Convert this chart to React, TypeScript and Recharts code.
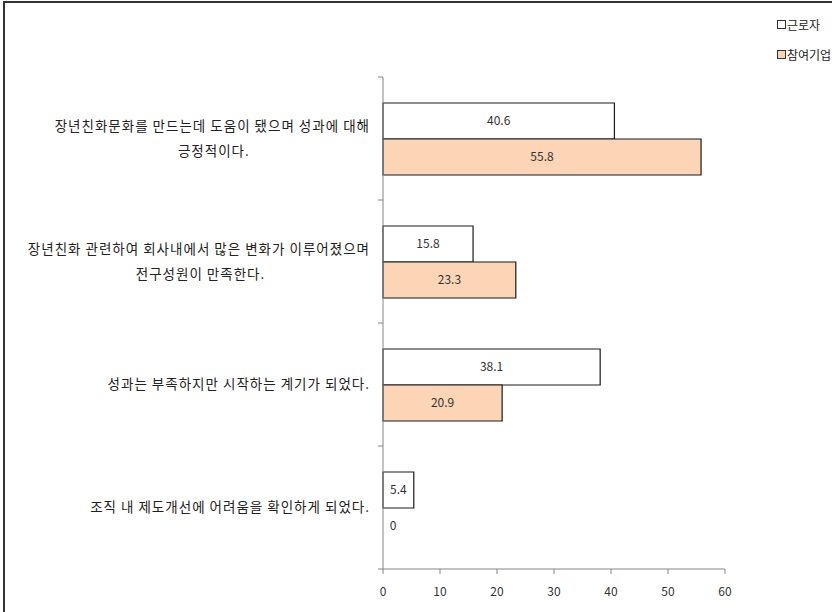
import React from "react";
import { Bar, BarChart, LabelList, Rectangle, XAxis, YAxis } from "recharts";

const categories = [
  "장년친화문화를 만드는데 도움이 됐으며 성과에 대해\n긍정적이다.",
  "장년친화 관련하여 회사내에서 많은 변화가 이루어졌으며\n전구성원이 만족한다.",
  "성과는 부족하지만 시작하는 계기가 되었다.",
  "조직 내 제도개선에 어려움을 확인하게 되었다.",
];
const workerValues = [40.6, 15.8, 38.1, 5.4];
const companyValues = [55.8, 23.3, 20.9, 0];
const xTicks = [0, 10, 20, 30, 40, 50, 60];
const seriesNames = ["근로자", "참여기업"];

const FONT = "'Noto Sans CJK KR', 'Noto Sans', sans-serif";
const AXIS = "#868686";
const PEACH = "#FBD5B5";

const TOP = 77;
const BOTTOM = 569;
const AXIS_X = 383;
const BAND = (BOTTOM - TOP) / categories.length;
const LABEL_FS = 13.5;
const LABEL_LS = 1;

const data = categories.map((name, i) => ({
  name,
  worker: workerValues[i],
  company: companyValues[i],
}));

// rough text width for wrapped excel-style labels
function textWidth(s: string, fs: number, ls: number) {
  let w = 0;
  for (const ch of s) {
    if (/[\uAC00-\uD7A3]/.test(ch)) w += fs * 0.91 + ls;
    else if (ch === " ") w += fs * 0.224 + ls;
    else w += fs * 0.3 + ls;
  }
  return w;
}

function CategoryTick(props: any) {
  const { y, payload, index } = props;
  const lines: string[] = String(payload.value).split("\n");
  const right = AXIS_X - 13;
  const widths = lines.map((l) => textWidth(l, LABEL_FS, LABEL_LS));
  const longest = Math.max(...widths);
  const lh = 25;
  const startY = y - ((lines.length - 1) * lh) / 2;
  return (
    <g>
      <line x1={AXIS_X - 5} x2={AXIS_X} y1={y - BAND / 2} y2={y - BAND / 2} stroke={AXIS} />
      {index === categories.length - 1 && (
        <line x1={AXIS_X - 5} x2={AXIS_X} y1={y + BAND / 2} y2={y + BAND / 2} stroke={AXIS} />
      )}
      {lines.map((l, i) => {
        const isLongest = widths[i] === longest;
        return (
          <text
            key={i}
            x={isLongest ? right : right - longest / 2}
            y={startY + i * lh}
            dy="0.35em"
            textAnchor={isLongest ? "end" : "middle"}
            fontSize={LABEL_FS}
            letterSpacing={LABEL_LS}
            fontFamily={FONT}
            fill="#222"
          >
            {l}
          </text>
        );
      })}
    </g>
  );
}

function ValueLabel(props: any) {
  const { x, y, width, height, value } = props;
  const cx = value === 0 ? x + 10 : x + width / 2;
  return (
    <text
      x={cx}
      y={y + height / 2}
      dy="0.35em"
      textAnchor="middle"
      fontSize={12}
      fontFamily={FONT}
      fill="#333"
    >
      {value}
    </text>
  );
}

// zero bars keep their label but draw no box
function BarShape(props: any) {
  if (props.value === 0 || (Array.isArray(props.value) && props.value[1] === 0)) return null;
  return <Rectangle {...props} />;
}

function LegendBox() {
  const fills = ["#fff", PEACH];
  return (
    <div style={{ position: "absolute", left: 777, top: 9, fontFamily: FONT, fontSize: 12, color: "#222" }}>
      {seriesNames.map((n, i) => (
        <div key={n} style={{ display: "flex", alignItems: "center", height: 30, whiteSpace: "nowrap" }}>
          <span
            style={{
              display: "inline-block",
              width: 7,
              height: 7,
              border: "1px solid #333",
              background: fills[i],
              marginRight: 1,
            }}
          />
          {n}
        </div>
      ))}
    </div>
  );
}

export default function App() {
  return (
    <div style={{ position: "absolute", left: 0, top: 0, width: 832, height: 612, background: "#fff", overflow: "hidden" }}>
      <div
        style={{
          position: "absolute",
          left: 3,
          top: 1,
          width: 829,
          height: 611,
          borderLeft: "2px solid #333",
          borderTop: "2px solid #333",
        }}
      />
      <LegendBox />
      <BarChart
        width={832}
        height={612}
        data={data}
        layout="vertical"
        margin={{ top: TOP, right: 107, bottom: 0, left: 0 }}
        barGap={0}
        barSize={36}
        style={{ position: "absolute", left: 0, top: 0 }}
      >
        <XAxis
          type="number"
          domain={[0, 60]}
          ticks={xTicks}
          interval={0}
          height={612 - BOTTOM}
          stroke={AXIS}
          tickSize={5}
          tickMargin={13}
          tick={{ fontSize: 12, fill: "#333", fontFamily: FONT }}
        />
        <YAxis
          type="category"
          dataKey="name"
          width={AXIS_X}
          stroke={AXIS}
          tickLine={false}
          interval={0}
          tick={<CategoryTick />}
        />
        <Bar
          dataKey="worker"
          name={seriesNames[0]}
          fill="#fff"
          stroke="#1a1a1a"
          strokeWidth={1.2}
          minPointSize={1}
          shape={<BarShape />}
          isAnimationActive={false}
        >
          <LabelList dataKey="worker" content={<ValueLabel />} />
        </Bar>
        <Bar
          dataKey="company"
          name={seriesNames[1]}
          fill={PEACH}
          stroke="#1a1a1a"
          strokeWidth={1.2}
          minPointSize={1}
          shape={<BarShape />}
          isAnimationActive={false}
        >
          <LabelList dataKey="company" content={<ValueLabel />} />
        </Bar>
      </BarChart>
    </div>
  );
}
